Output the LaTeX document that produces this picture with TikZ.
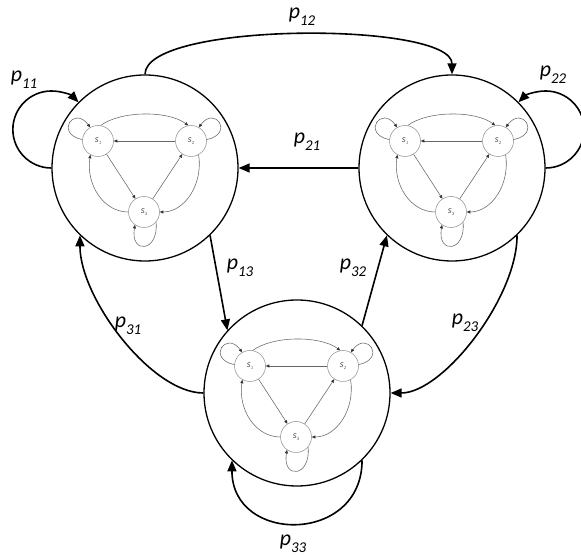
\documentclass[tikz,border=0pt]{standalone}
\usepackage{fontspec}
\setmainfont{Carlito}
\usetikzlibrary{arrows.meta}
\newcommand\plab[1]{\itshape p\raisebox{-0.33em}{\fontsize{15}{16}\selectfont\itshape #1}}
\newcommand\slab[1]{\itshape s\raisebox{-0.35ex}{\fontsize{4.5}{5}\selectfont\itshape #1}}
\newcommand\drawinner[1]{%
\begin{scope}[shift={(#1.center)}]
\node[smallc] (#1s1) at (-47,27) {\slab{1}};
\node[smallc] (#1s2) at (46,27) {\slab{2}};
\node[smallc] (#1s3) at (-1,-44) {\slab{3}};
\draw[innerarr] (#1s2) -- (#1s1);
\draw[innerarr] (#1s1) -- (#1s3);
\draw[innerarr] (#1s3) -- (#1s2);
\draw[innerarr] (#1s1.80) .. controls +(20,15) and +(-20,15) .. (#1s2.100);
\draw[innerarr] (#1s1.175) .. controls +(-28,6) and +(-16,22) .. (#1s1.120);
\draw[innerarr] (#1s2.5) .. controls +(28,6) and +(16,22) .. (#1s2.60);
\draw[innerarr] (#1s3.west) .. controls +(-25,0) and +(-4.5,-29.5) .. (#1s1.-119);
\draw[innerarr] (#1s2.-61) .. controls +(4.5,-29.5) and +(25,0) .. (#1s3.east);
\draw[innerarr] (#1s3.-40) .. controls +(3,-30) and +(-5,-30) .. (#1s3.-125);
\end{scope}}
\begin{document}
\begin{tikzpicture}[x=1bp,y=1bp,
  bigc/.style={circle,draw=black,line width=1.3bp,minimum size=186bp,inner sep=0pt},
  smallc/.style={circle,draw=black!45,line width=0.5bp,minimum size=31bp,inner sep=0pt,text=black!70},
  innerarr/.style={draw=black!60,line width=0.55bp,-{Triangle[length=3.5bp,width=3bp,color=black!80]}},
  mainarr/.style={draw=black,line width=1.6bp,-{Triangle[length=11bp,width=9bp]}},
  plabel/.style={font=\fontsize{22}{24}\selectfont,inner sep=0pt,text=black}]
\useasboundingbox[fill=white] (0,0) rectangle (581,559);
\node[bigc] (c1) at (145,391) {};
\node[bigc] (c2) at (452,391) {};
\node[bigc] (c3) at (297,166) {};
\drawinner{c1}
\drawinner{c2}
\drawinner{c3}
% transitions
\draw[mainarr] (c1.north) .. controls +(0,53) and +(0,53) .. (c2.north);
\draw[mainarr] (c2.west) -- (c1.east);
\draw[mainarr] (c1.west) arc[start angle=270,end angle=45,radius=38.5];
\draw[mainarr] (c2.east) arc[start angle=-90,end angle=135,radius=38.5];
\draw[mainarr] (c1.-46) -- (c3.138);
\draw[mainarr] (c3.46) -- (c2.-134);
\draw[mainarr] (c3.west) .. controls +(-52,0) and +(0,-63) .. (c1.-134);
\draw[mainarr] (c2.-46) .. controls +(0,-63) and +(52,0) .. (c3.east);
\draw[mainarr] (c3.-46) .. controls +(0,-84) and +(0,-84) .. (c3.-134);
% labels
\node[plabel] (l11) at (24,479) {\plab{11}};
\node[plabel] (l12) at (302,542) {\plab{12}};
\node[plabel] (l22) at (553,484) {\plab{22}};
\node[plabel] (l21) at (307,417) {\plab{21}};
\node[plabel] (l13) at (240,291) {\plab{13}};
\node[plabel] (l32) at (353,291) {\plab{32}};
\node[plabel] (l31) at (128,233) {\plab{31}};
\node[plabel] (l23) at (465,236) {\plab{23}};
\node[plabel] (l33) at (293,15) {\plab{33}};
\end{tikzpicture}
\end{document}
